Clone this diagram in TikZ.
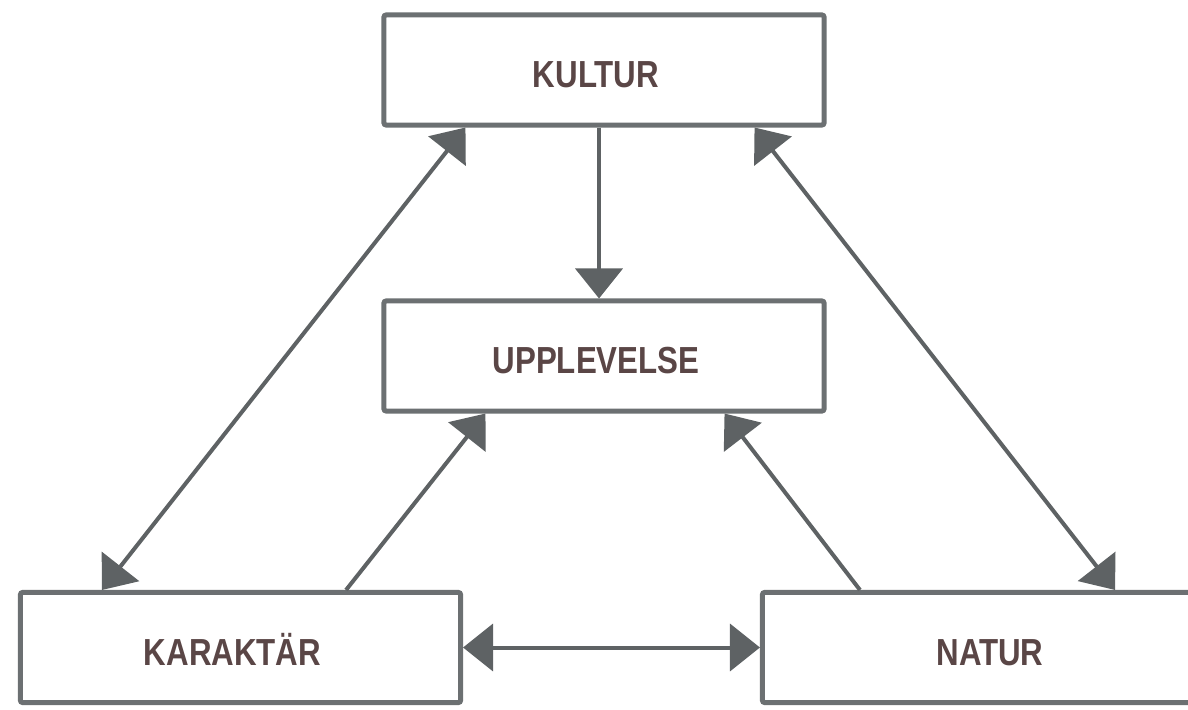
\documentclass[tikz,border=0pt]{standalone}
\usepackage{fontspec}
\newfontfamily\boxfont{Liberation Sans}[FakeStretch=0.83]
\usetikzlibrary{arrows.meta}
\definecolor{linegray}{HTML}{5E6264}
\definecolor{boxgray}{HTML}{6C7072}
\definecolor{textbrown}{HTML}{5A4646}
\begin{document}
\begin{tikzpicture}[x=0.025cm,y=-0.025cm,
	box/.style={draw=boxgray,line width=0.125cm,rounded corners=1.5pt,fill=white,minimum width=11cm,minimum height=2.75cm,inner sep=0pt,text height=24.9pt,text depth=0pt,execute at end node=\hspace*{0.4cm},font=\boxfont\bfseries\fontsize{26.8}{30}\selectfont,text=textbrown},
	conn/.style={draw=linegray,line width=0.1cm},
	>={Triangle[length=0.75cm,width=1.175cm]}]
	\useasboundingbox (0,0) rectangle (1188,709);
	\node[box] (kultur) at (604,70) {KULTUR};
	\node[box] (upplev) at (604,356) {UPPLEVELSE};
	\node[box] (karakt) at (240.5,647.5) {KARAKTÄR};
	\node[box,minimum width=11.775cm] (natur) at (998,647.5) {NATUR};
	\draw[conn,->] ([xshift=-0.125cm]kultur.south)--([xshift=-0.125cm]upplev.north);
	\draw[conn,<->] ([xshift=2.1cm]kultur.south west)--([xshift=2.1cm]karakt.north west);
	\draw[conn,<->] ([xshift=-1.8cm]kultur.south east)--([xshift=8.875cm]natur.north west);
	\draw[conn,->] ([xshift=8.2cm]karakt.north west)--([xshift=2.6cm]upplev.south west);
	\draw[conn,->] ([xshift=2.5cm]natur.north west)--([xshift=-2.55cm]upplev.south east);
	\draw[conn,<->] (karakt.east)--(natur.west);
\end{tikzpicture}
\end{document}
